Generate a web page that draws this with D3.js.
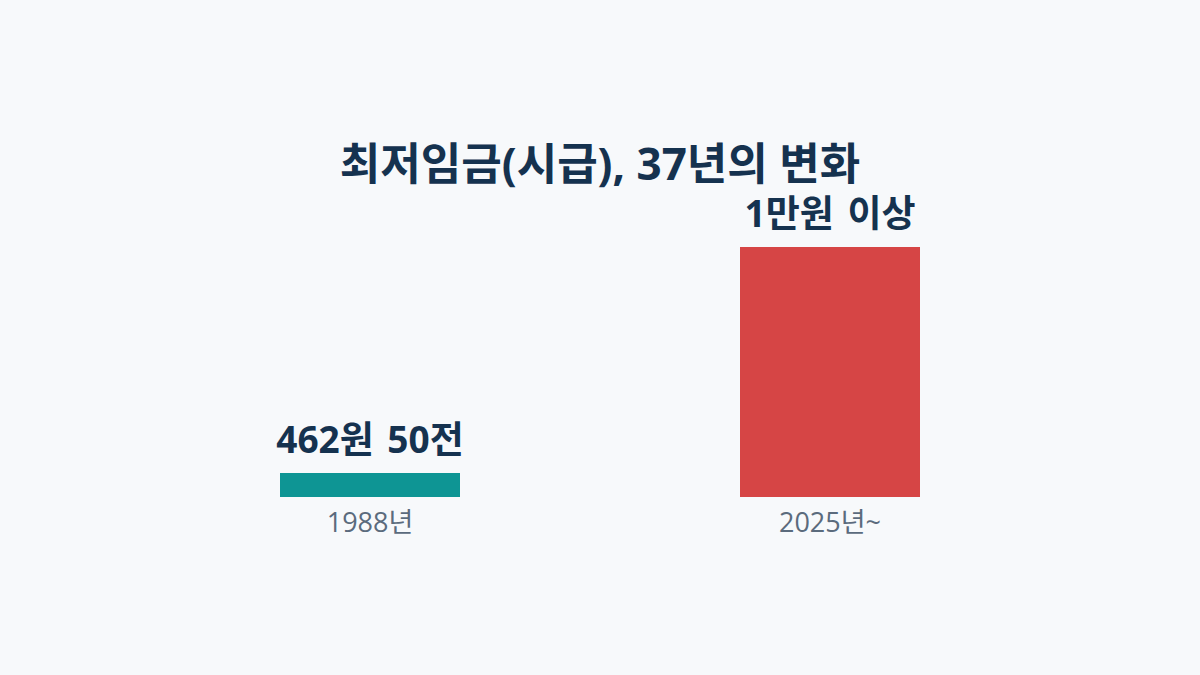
<!DOCTYPE html>
<html>
<head>
<meta charset="utf-8">
<script src="https://cdn.jsdelivr.net/npm/d3@7"></script>
<style>
  html, body { margin: 0; padding: 0; background: #f7f9fb; }
  svg { display: block; }
</style>
</head>
<body>
<svg id="chart" width="1200" height="675"></svg>
<script>
const categories = ["1988년", "2025년~"];
const values = [462.5, 10030];
const valueLabels = ["462원 50전", "1만원 이상"];
const colors = ["#0e9594", "#d64545"];
const title = "최저임금(시급), 37년의 변화";

const W = 1200, H = 675;
const baseY = 497, topY = 247;
const svg = d3.select("#chart");
svg.append("rect").attr("width", W).attr("height", H).attr("fill", "#f7f9fb");

const font = "'Open Sans', 'Noto Sans CJK KR', sans-serif";

const x = d3.scalePoint().domain(categories).range([370, 830]);
const barW = 180;
const y = d3.scaleLinear().domain([0, d3.max(values)]).range([baseY, topY]);
const minH = 24;
const barTop = v => Math.min(y(v), baseY - minH);

svg.append("text")
  .attr("x", 600).attr("y", 180)
  .attr("text-anchor", "middle")
  .attr("font-family", font).attr("font-weight", 700)
  .attr("font-size", 44).attr("fill", "#15324f")
  .text(title);

const g = svg.append("g");
g.selectAll("rect.bar").data(values).join("rect")
  .attr("class", "bar")
  .attr("x", (d, i) => x(categories[i]) - barW / 2)
  .attr("width", barW)
  .attr("y", d => barTop(d))
  .attr("height", d => baseY - barTop(d))
  .attr("fill", (d, i) => colors[i]);

g.selectAll("text.val").data(values).join("text")
  .attr("class", "val")
  .attr("x", (d, i) => x(categories[i]))
  .attr("y", d => barTop(d) - 20)
  .attr("text-anchor", "middle")
  .attr("font-family", font).attr("font-weight", 700)
  .attr("font-size", 37).attr("fill", "#15324f")
  .attr("word-spacing", 4)
  .text((d, i) => valueLabels[i]);

g.selectAll("text.cat").data(categories).join("text")
  .attr("class", "cat")
  .attr("x", d => x(d))
  .attr("y", 532)
  .attr("text-anchor", "middle")
  .attr("font-family", font)
  .attr("font-size", 27).attr("fill", "#5b6b7d")
  .text(d => d);
</script>
</body>
</html>
